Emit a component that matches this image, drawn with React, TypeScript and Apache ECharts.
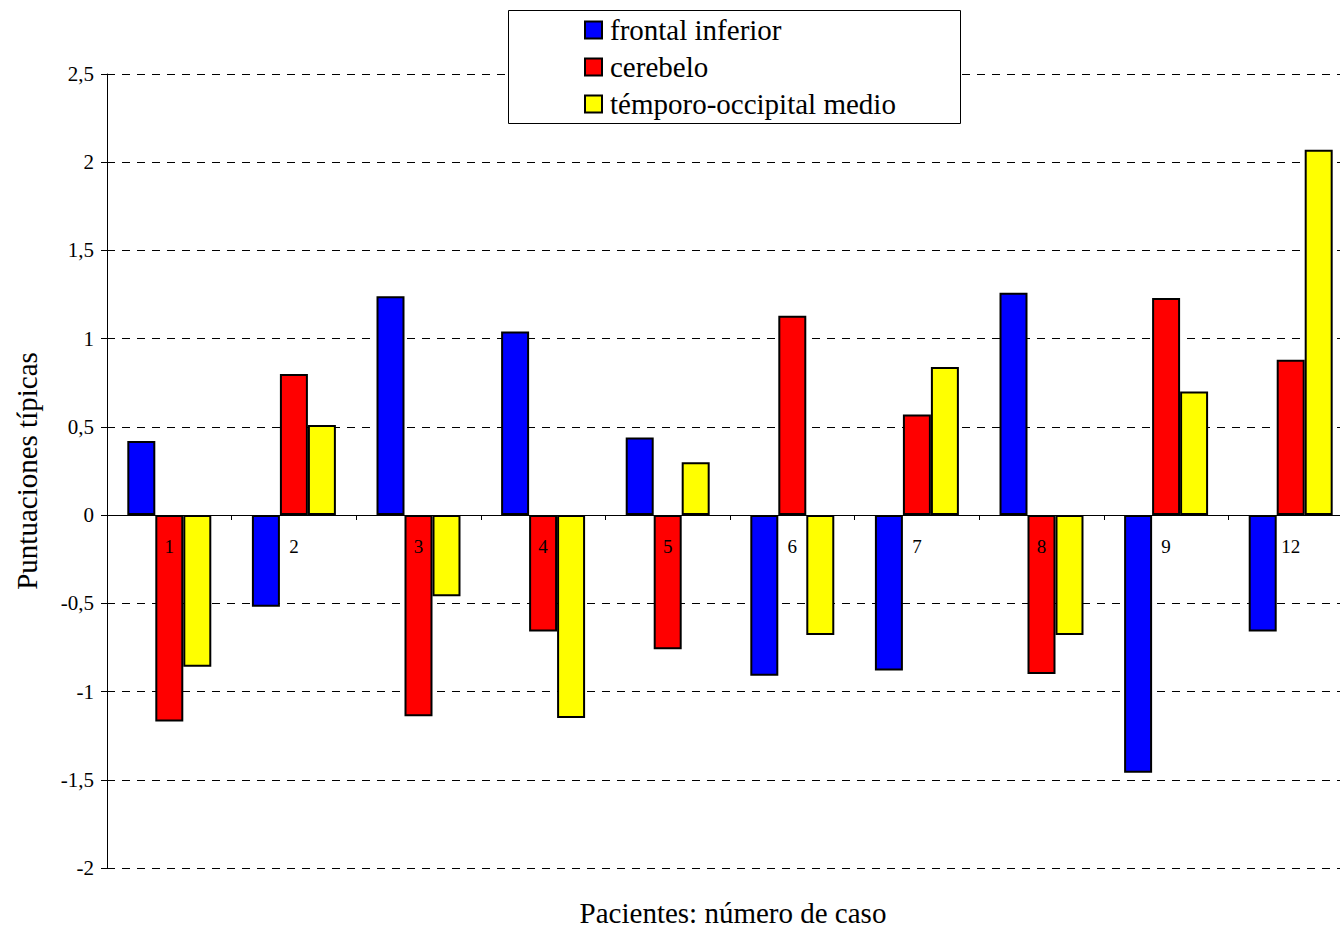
import React, { useEffect, useRef } from "react";
import * as echarts from "echarts";

const categories = ["1", "2", "3", "4", "5", "6", "7", "8", "9", "12"];
const frontalInferior = [0.42, -0.52, 1.24, 1.04, 0.44, -0.91, -0.88, 1.26, -1.46, -0.66];
const cerebelo = [-1.17, 0.8, -1.14, -0.66, -0.76, 1.13, 0.57, -0.9, 1.23, 0.88];
const temporoOccipital = [-0.86, 0.51, -0.46, -1.15, 0.3, -0.68, 0.84, -0.68, 0.7, 2.07];
const seriesNames = ["frontal inferior", "cerebelo", "témporo-occipital medio"];
const seriesColors = ["#0000FF", "#FF0000", "#FFFF00"];

const FONT = "'Liberation Serif', 'Times New Roman', Times, serif";

export default function App() {
  const ref = useRef<HTMLDivElement>(null);
  useEffect(() => {
    document.body.style.margin = "0";
    if (!ref.current) return;
    const chart = echarts.init(ref.current, undefined, { renderer: "svg" });
    const data = [frontalInferior, cerebelo, temporoOccipital];
    chart.setOption({
      animation: false,
      backgroundColor: "#ffffff",
      textStyle: { fontFamily: FONT, color: "#000" },
      grid: {
        left: 107,
        top: 74,
        width: 1246,
        height: 794,
        containLabel: false,
        outerBoundsMode: "none",
      },
      legend: {
        orient: "vertical",
        left: 584,
        top: 11.5,
        padding: 0,
        itemWidth: 17,
        itemHeight: 17,
        itemGap: 0,
        icon: "rect",
        z: 20,
        textStyle: {
          fontFamily: FONT,
          fontSize: 29,
          lineHeight: 37,
          color: "#000",
          padding: [0, 0, 0, 3],
        },
        data: seriesNames,
      },
      graphic: [
        {
          type: "rect",
          z: 10,
          shape: { x: 508.5, y: 10.5, width: 452, height: 113 },
          style: { fill: "#fff", stroke: "#000", lineWidth: 1 },
        },
        {
          type: "text",
          z: 10,
          x: 733,
          y: 913,
          style: {
            text: "Pacientes: número de caso",
            fontFamily: FONT,
            fontSize: 29,
            fill: "#000",
            align: "center",
            verticalAlign: "middle",
          },
        },
      ],
      xAxis: {
        type: "category",
        data: categories,
        z: 10,
        position: "bottom",
        offset: -353,
        axisLine: { onZero: false, lineStyle: { color: "#000", width: 1 } },
        axisTick: { show: true, length: 5, lineStyle: { color: "#000" } },
        axisLabel: { fontFamily: FONT, fontSize: 19, color: "#000", margin: 22 },
        splitLine: { show: false },
      },
      yAxis: {
        type: "value",
        min: -2,
        max: 2.5,
        interval: 0.5,
        name: "Puntuaciones típicas",
        nameLocation: "middle",
        nameGap: 66,
        nameTextStyle: { fontFamily: FONT, fontSize: 29, color: "#000" },
        axisLine: { show: true, onZero: false, lineStyle: { color: "#000", width: 1 } },
        axisTick: { show: true, length: 6, lineStyle: { color: "#000" } },
        axisLabel: {
          fontFamily: FONT,
          fontSize: 21,
          color: "#000",
          margin: 13,
          formatter: (v: number) => String(v).replace(".", ","),
        },
        splitLine: { show: true, lineStyle: { color: "#000", width: 1, type: [8, 7] } },
      },
      series: seriesNames.map((name, i) => ({
        name,
        type: "bar",
        data: data[i],
        barGap: "0%",
        barCategoryGap: "32.6%",
        itemStyle: { color: seriesColors[i], borderColor: "#000", borderWidth: 2 },
      })),
    });
    return () => chart.dispose();
  }, []);
  return <div ref={ref} style={{ width: 1340, height: 928 }} />;
}
